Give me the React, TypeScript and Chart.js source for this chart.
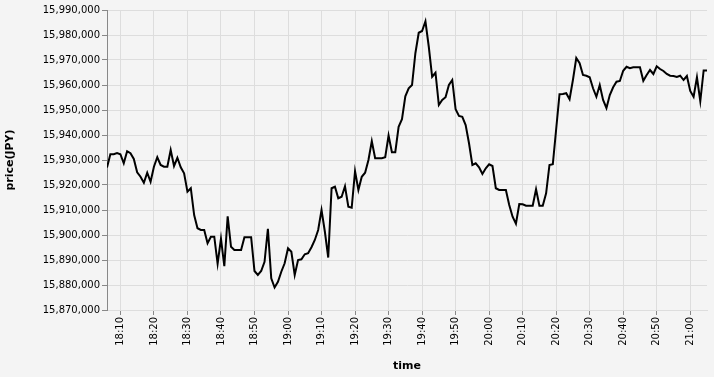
import React, { useEffect, useRef } from "react";
import { Chart, registerables } from "chart.js";

Chart.register(...registerables);

// First sample time; one price per minute after it.
const startTime = "18:06";

// Price in JPY, one value per minute from 18:06 to 21:05
const prices: number[] = [
  15927000, 15932300, 15932300, 15932800, 15932300, 15928700, 15933500, 15932700, 15930400, 15925100,
  15923300, 15920900, 15924900, 15921300, 15927300, 15931100, 15928000, 15927300, 15927300, 15934000,
  15927600, 15930900, 15927100, 15924700, 15917300, 15918700, 15908000, 15902700, 15902000, 15902000,
  15896700, 15899300, 15899300, 15888500, 15898500, 15887500, 15907500, 15895300, 15894000, 15894000,
  15894000, 15899100, 15899100, 15899100, 15885600, 15884000, 15885600, 15889300, 15902500, 15882700,
  15879000, 15881300, 15885300, 15888700, 15894700, 15893300, 15884000, 15890000, 15890300, 15892300,
  15892700, 15895100, 15898000, 15902000, 15910000, 15901300, 15891000, 15918700, 15919300, 15914700,
  15915300, 15919500, 15911300, 15910900, 15925500, 15918000, 15923300, 15924900, 15930000, 15937500,
  15930700, 15930700, 15930700, 15931100, 15939800, 15933100, 15933100, 15943300, 15946300, 15955500,
  15958700, 15960000, 15972700, 15980900, 15981600, 15985500, 15975300, 15963300, 15964900, 15952000,
  15954000, 15955100, 15960000, 15962000, 15950300, 15947600, 15947300, 15944000, 15936700, 15928000,
  15928700, 15927100, 15924400, 15926700, 15928300, 15927600, 15918700, 15918000, 15918000, 15918000,
  15912000, 15907300, 15904500, 15912400, 15912300, 15911700, 15911700, 15911700, 15918300, 15911700,
  15911700, 15916700, 15928000, 15928300, 15942300, 15956300, 15956400, 15956700, 15954300, 15962000,
  15970800, 15968700, 15964000, 15963700, 15963100, 15958700, 15955300, 15960000, 15954000, 15950800,
  15956000, 15959100, 15961300, 15961600, 15965700, 15967300, 15966700, 15967100, 15967100, 15967100,
  15961700, 15964000, 15966000, 15964400, 15967500, 15966400, 15965600, 15964400, 15963700, 15963600,
  15963200, 15963700, 15962000, 15963600, 15957600, 15955300, 15963100, 15953500, 15965800, 15965800,
];

const xTickLabels = [
  "18:10", "18:20", "18:30", "18:40", "18:50", "19:00", "19:10", "19:20", "19:30",
  "19:40", "19:50", "20:00", "20:10", "20:20", "20:30", "20:40", "20:50", "21:00",
];

const yMin = 15870000;
const yMax = 15990000;
const yStep = 10000;

const toMin = (s: string) => {
  const [h, m] = s.split(":").map(Number);
  return h * 60 + m;
};
const startMin = toMin(startTime);
const fmtTime = (idx: number) => {
  const t = startMin + Math.round(idx);
  const h = Math.floor(t / 60);
  const m = t % 60;
  return `${h}:${m < 10 ? "0" : ""}${m}`;
};

export default function App() {
  const ref = useRef<HTMLCanvasElement>(null);

  useEffect(() => {
    if (!ref.current) return;
    const font = "'DejaVu Sans', sans-serif";
    const chart = new Chart(ref.current, {
      type: "line",
      data: {
        datasets: [
          {
            data: prices.map((p, i) => ({ x: i, y: p })),
            borderColor: "#000",
            borderWidth: 2,
            pointRadius: 0,
            tension: 0,
            fill: false,
          },
        ],
      },
      options: {
        animation: false,
        responsive: false,
        layout: { padding: { left: 0, right: 7, top: 10, bottom: 0 } },
        plugins: { legend: { display: false }, tooltip: { enabled: false } },
        scales: {
          x: {
            type: "linear",
            min: 0,
            max: prices.length - 1,
            afterBuildTicks: (s: any) => {
              s.ticks = xTickLabels.map((l) => ({ value: toMin(l) - startMin }));
            },
            afterFit: (s: any) => {
              s.height = 67;
            },
            ticks: {
              autoSkip: false,
              minRotation: 90,
              maxRotation: 90,
              padding: 2,
              color: "#000",
              font: { family: font, size: 10 },
              callback: (v: any) => fmtTime(Number(v)),
            },
            grid: { color: "#dddddd", tickColor: "#888888", tickLength: 5 },
            border: { display: true, color: "#dddddd" },
            title: {
              display: true,
              text: "time",
              color: "#000",
              font: { family: font, size: 11, weight: "bold" },
              padding: { top: 0, bottom: 4 },
            },
          },
          y: {
            type: "linear",
            min: yMin,
            max: yMax,
            afterFit: (s: any) => {
              s.width = 107;
            },
            ticks: {
              stepSize: yStep,
              padding: 2,
              color: "#000",
              font: { family: font, size: 10 },
              callback: (v: any) => Number(v).toLocaleString("en-US"),
            },
            grid: { color: "#dddddd", tickColor: "#888888", tickLength: 5 },
            border: { display: true, color: "#888888" },
            title: {
              display: true,
              text: "price(JPY)",
              color: "#000",
              font: { family: font, size: 11, weight: "bold" },
              padding: { top: 4, bottom: 0 },
            },
          },
        },
      },
    } as any);
    return () => chart.destroy();
  }, []);

  return (
    <div
      style={{
        position: "fixed",
        left: 0,
        top: 0,
        width: 714,
        height: 377,
        background: "#f4f4f4",
      }}
    >
      <canvas ref={ref} width={714} height={377} style={{ display: "block" }} />
    </div>
  );
}
